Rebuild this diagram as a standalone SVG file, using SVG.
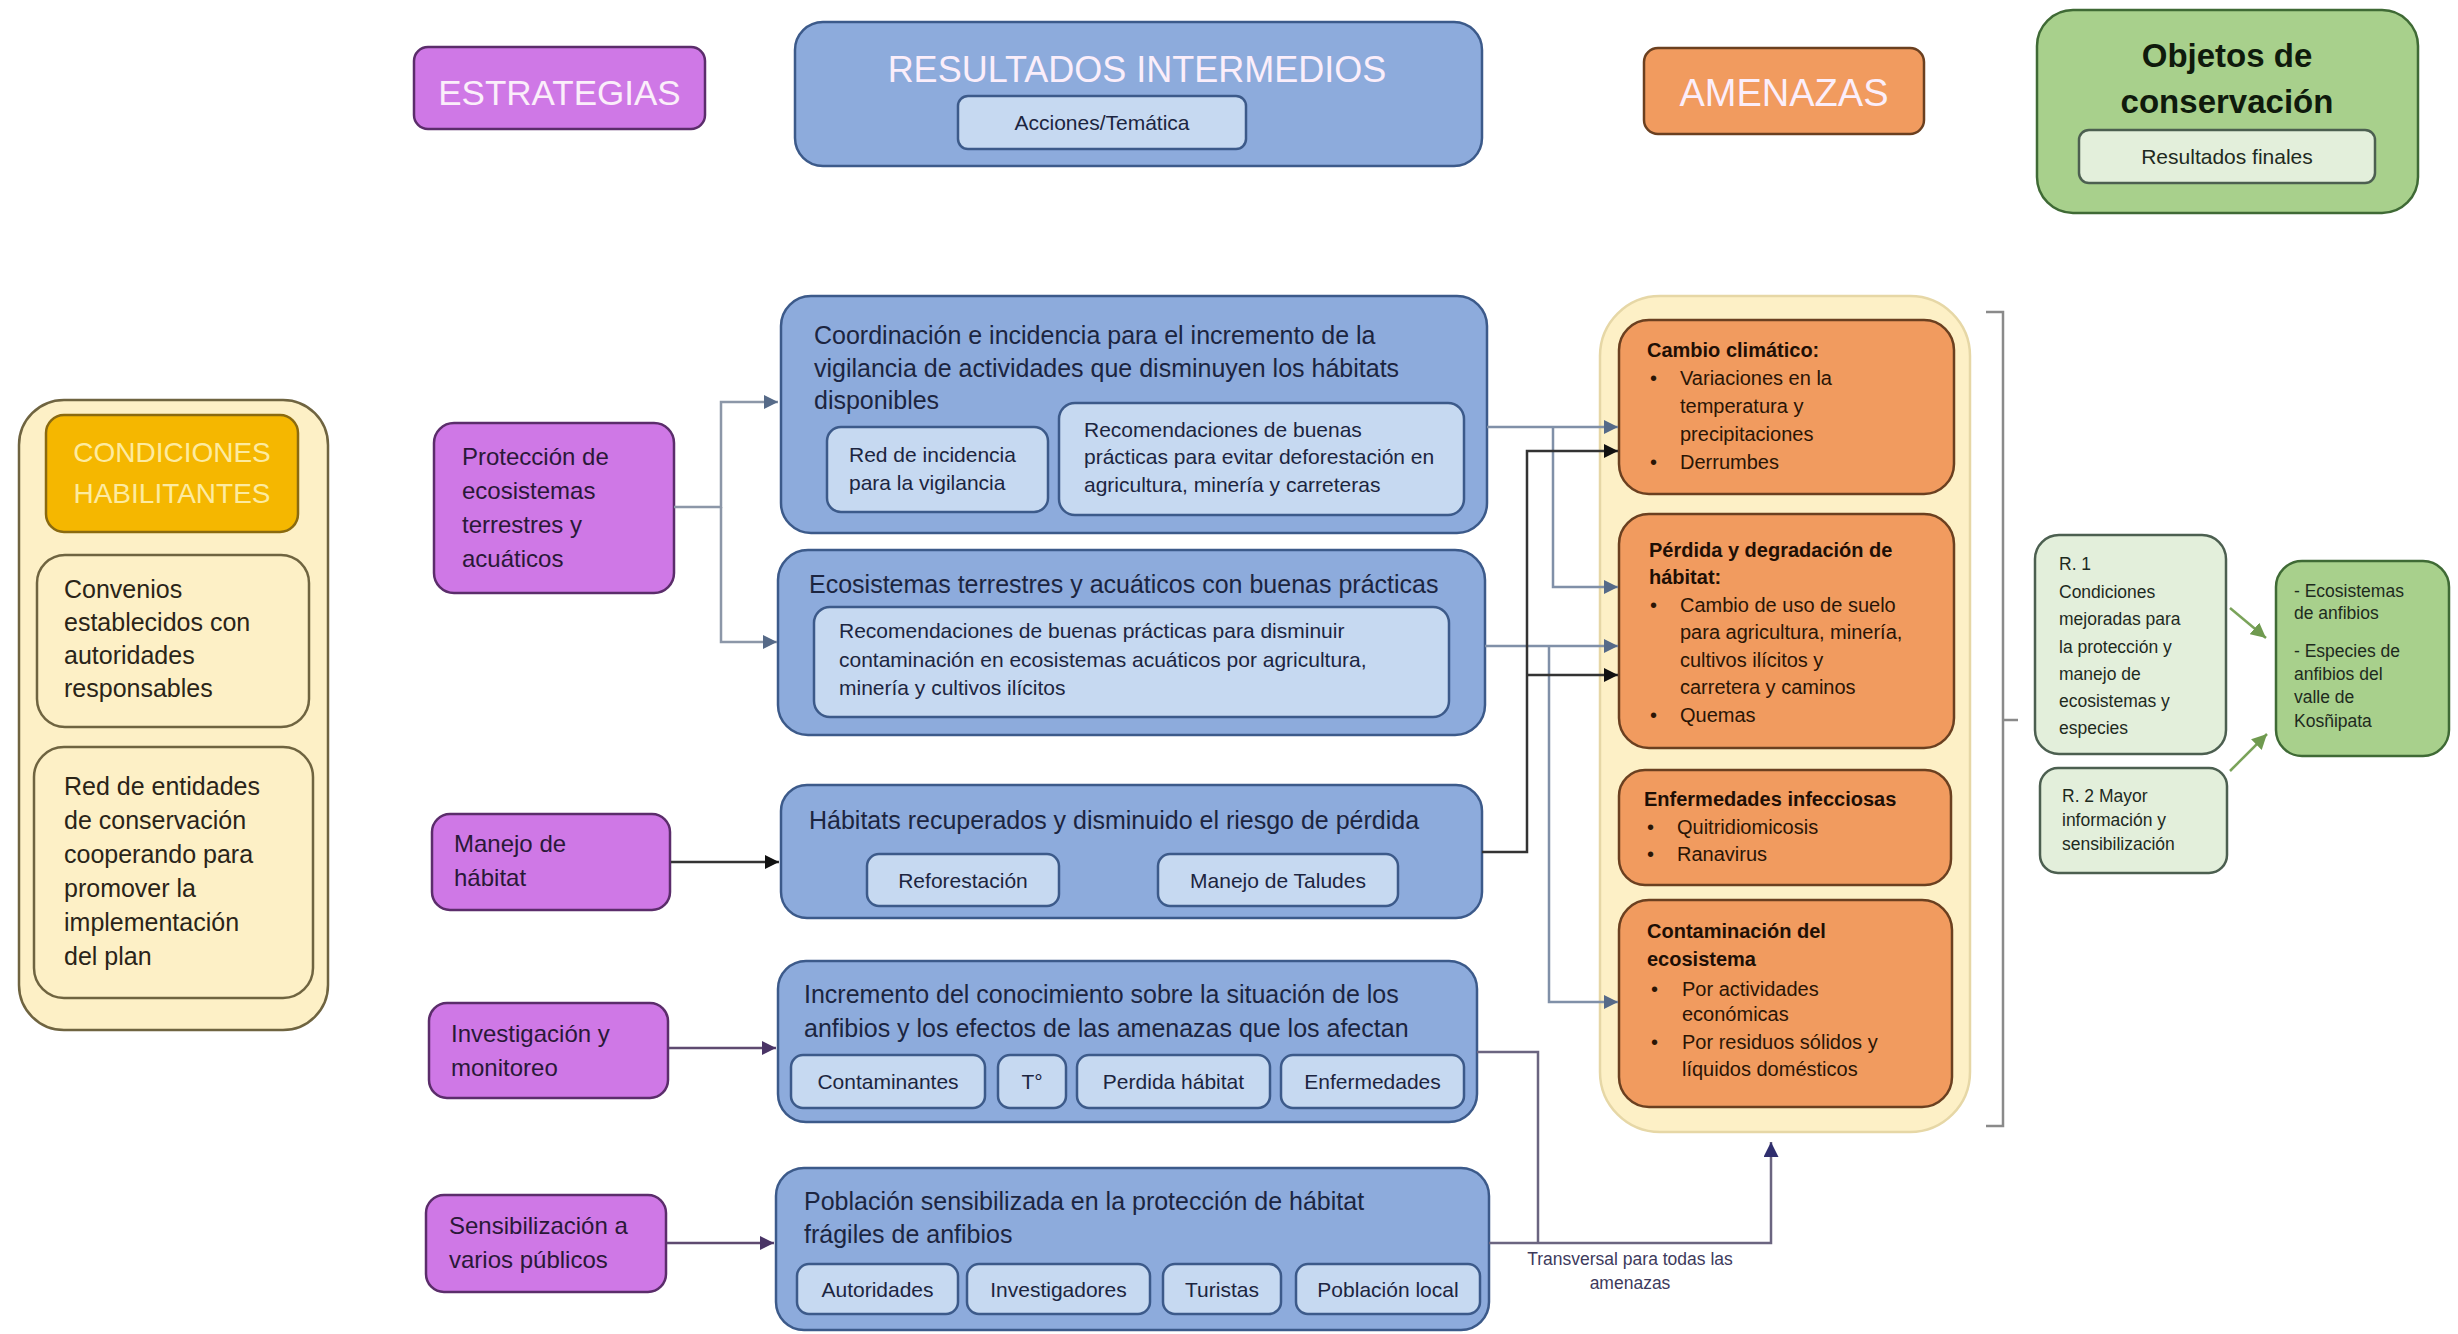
<svg xmlns="http://www.w3.org/2000/svg" width="2458" height="1334" viewBox="0 0 2458 1334">
<defs>
<style>
text{font-family:"Liberation Sans",Arial,sans-serif;}
.hdr{fill:#fbeefa;text-anchor:middle;}
.strat{fill:#cf78e6;stroke:#5b2d6b;stroke-width:2.5;}
.stxt{fill:#2a1838;font-size:24px;}
.blue{fill:#8dabdc;stroke:#3c5a8a;stroke-width:2.5;}
.sub{fill:#c6d9f1;stroke:#3c5a8a;stroke-width:2.5;}
.btitle{fill:#1c2540;font-size:25px;}
.btxt{fill:#1c2540;font-size:21px;}
.mid{text-anchor:middle;}
.cream{fill:#fdf0c6;stroke:#6f6440;stroke-width:2.5;}
.ctxt{fill:#2a2418;font-size:25px;}
.orange{fill:#f19b5f;stroke:#6b4020;stroke-width:2.5;}
.otitle{fill:#1e0f05;font-size:20px;font-weight:bold;}
.otxt{fill:#2a1505;font-size:20px;}
.lgreen{fill:#e3efdb;stroke:#4c5f50;stroke-width:2.5;}
.gtxt{fill:#1e2a1e;font-size:17.5px;}
.con{fill:none;stroke-width:2.5;}
</style>
<marker id="aGrey" viewBox="0 0 10 10" refX="10" refY="5" markerWidth="14" markerHeight="14" markerUnits="userSpaceOnUse" orient="auto"><path d="M0,0 L10,5 L0,10 z" fill="#566a88"/></marker>
<marker id="aBlack" viewBox="0 0 10 10" refX="10" refY="5" markerWidth="14" markerHeight="14" markerUnits="userSpaceOnUse" orient="auto"><path d="M0,0 L10,5 L0,10 z" fill="#111111"/></marker>
<marker id="aPurple" viewBox="0 0 10 10" refX="10" refY="5" markerWidth="14" markerHeight="14" markerUnits="userSpaceOnUse" orient="auto"><path d="M0,0 L10,5 L0,10 z" fill="#4a3466"/></marker>
<marker id="aNavy" viewBox="0 0 10 10" refX="10" refY="5" markerWidth="15" markerHeight="15" markerUnits="userSpaceOnUse" orient="auto"><path d="M0,0 L10,5 L0,10 z" fill="#2f2e6e"/></marker>
<marker id="aGreen" viewBox="0 0 10 10" refX="10" refY="5" markerWidth="15" markerHeight="15" markerUnits="userSpaceOnUse" orient="auto"><path d="M0,0 L10,5 L0,10 z" fill="#6f9a4f"/></marker>
</defs>
<rect x="0" y="0" width="2458" height="1334" fill="#ffffff"/>

<!-- Headers -->
<g id="hdr-estrategias">
<rect x="414" y="47" width="291" height="82" rx="14" class="strat"/>
<text x="559.5" y="105" class="hdr" font-size="35">ESTRATEGIAS</text>
</g>
<g id="hdr-resultados">
<rect x="795" y="22" width="687" height="144" rx="28" class="blue"/>
<text x="1137" y="82" class="hdr" font-size="36">RESULTADOS INTERMEDIOS</text>
<rect x="958" y="96" width="288" height="53" rx="10" class="sub"/>
<text x="1102" y="130" class="btxt mid">Acciones/Temática</text>
</g>
<g id="hdr-amenazas">
<rect x="1644" y="48" width="280" height="86" rx="14" class="orange"/>
<text x="1784" y="106" class="hdr" font-size="38">AMENAZAS</text>
</g>
<g id="hdr-objetos">
<rect x="2037" y="10" width="381" height="203" rx="36" fill="#a8d08c" stroke="#3f6a35" stroke-width="2.5"/>
<text x="2227" y="67" font-size="33" font-weight="bold" fill="#0f1a0c" text-anchor="middle">Objetos de</text>
<text x="2227" y="113" font-size="33" font-weight="bold" fill="#0f1a0c" text-anchor="middle">conservación</text>
<rect x="2079" y="130" width="296" height="53" rx="10" class="lgreen"/>
<text x="2227" y="164" class="mid" style="font-size:21px;fill:#1e2a1e">Resultados finales</text>
</g>

<!-- Condiciones habilitantes -->
<g id="condiciones">
<rect x="19" y="400" width="309" height="630" rx="45" class="cream"/>
<rect x="46" y="415" width="252" height="117" rx="18" fill="#f5b700" stroke="#8a6a10" stroke-width="2.5"/>
<text x="172" y="462" font-size="28" fill="#fdeba0" text-anchor="middle">CONDICIONES</text>
<text x="172" y="503" font-size="28" fill="#fdeba0" text-anchor="middle">HABILITANTES</text>
</g>
<g id="convenios">
<rect x="37" y="555" width="272" height="172" rx="28" class="cream"/>
<text class="ctxt"><tspan x="64" y="598">Convenios</tspan><tspan x="64" y="631">establecidos con</tspan><tspan x="64" y="664">autoridades</tspan><tspan x="64" y="697">responsables</tspan></text>
</g>
<g id="red-entidades">
<rect x="34" y="747" width="279" height="251" rx="30" class="cream"/>
<text class="ctxt"><tspan x="64" y="795">Red de entidades</tspan><tspan x="64" y="829">de conservación</tspan><tspan x="64" y="863">cooperando para</tspan><tspan x="64" y="897">promover la</tspan><tspan x="64" y="931">implementación</tspan><tspan x="64" y="965">del plan</tspan></text>
</g>

<!-- Strategies -->
<g id="s-proteccion">
<rect x="434" y="423" width="240" height="170" rx="20" class="strat"/>
<text class="stxt"><tspan x="462" y="465">Protección de</tspan><tspan x="462" y="499">ecosistemas</tspan><tspan x="462" y="533">terrestres y</tspan><tspan x="462" y="567">acuáticos</tspan></text>
</g>
<g id="s-manejo">
<rect x="432" y="814" width="238" height="96" rx="18" class="strat"/>
<text class="stxt"><tspan x="454" y="852">Manejo de</tspan><tspan x="454" y="886">hábitat</tspan></text>
</g>
<g id="s-investigacion">
<rect x="429" y="1003" width="239" height="95" rx="18" class="strat"/>
<text class="stxt"><tspan x="451" y="1042">Investigación y</tspan><tspan x="451" y="1076">monitoreo</tspan></text>
</g>
<g id="s-sensibilizacion">
<rect x="426" y="1195" width="240" height="97" rx="18" class="strat"/>
<text class="stxt"><tspan x="449" y="1234">Sensibilización a</tspan><tspan x="449" y="1268">varios públicos</tspan></text>
</g>

<!-- Intermediate results -->
<g id="r-coordinacion">
<rect x="781" y="296" width="706" height="237" rx="30" class="blue"/>
<text class="btitle"><tspan x="814" y="344">Coordinación e incidencia para el incremento de la</tspan><tspan x="814" y="377">vigilancia de actividades que disminuyen los hábitats</tspan><tspan x="814" y="409">disponibles</tspan></text>
<rect x="827" y="427" width="221" height="85" rx="14" class="sub"/>
<text class="btxt"><tspan x="849" y="462">Red de incidencia</tspan><tspan x="849" y="490">para la vigilancia</tspan></text>
<rect x="1059" y="403" width="405" height="112" rx="16" class="sub"/>
<text class="btxt"><tspan x="1084" y="437">Recomendaciones de buenas</tspan><tspan x="1084" y="464">prácticas para evitar deforestación en</tspan><tspan x="1084" y="492">agricultura, minería y carreteras</tspan></text>
</g>
<g id="r-ecosistemas">
<rect x="778" y="550" width="707" height="185" rx="30" class="blue"/>
<text x="809" y="593" class="btitle">Ecosistemas terrestres y acuáticos con buenas prácticas</text>
<rect x="814" y="607" width="635" height="110" rx="16" class="sub"/>
<text class="btxt"><tspan x="839" y="638">Recomendaciones de buenas prácticas para disminuir</tspan><tspan x="839" y="667">contaminación en ecosistemas acuáticos por agricultura,</tspan><tspan x="839" y="695">minería y cultivos ilícitos</tspan></text>
</g>
<g id="r-habitats">
<rect x="781" y="785" width="701" height="133" rx="26" class="blue"/>
<text x="809" y="829" class="btitle">Hábitats recuperados y disminuido el riesgo de pérdida</text>
<rect x="867" y="854" width="192" height="52" rx="12" class="sub"/>
<text x="963" y="888" class="btxt mid">Reforestación</text>
<rect x="1158" y="854" width="240" height="52" rx="12" class="sub"/>
<text x="1278" y="888" class="btxt mid">Manejo de Taludes</text>
</g>
<g id="r-conocimiento">
<rect x="778" y="961" width="699" height="161" rx="28" class="blue"/>
<text class="btitle"><tspan x="804" y="1003">Incremento del conocimiento sobre la situación de los</tspan><tspan x="804" y="1037">anfibios y los efectos de las amenazas que los afectan</tspan></text>
<rect x="791" y="1055" width="194" height="53" rx="12" class="sub"/>
<text x="888" y="1089" class="btxt mid">Contaminantes</text>
<rect x="998" y="1055" width="68" height="53" rx="12" class="sub"/>
<text x="1032" y="1089" class="btxt mid">T°</text>
<rect x="1077" y="1055" width="193" height="53" rx="12" class="sub"/>
<text x="1173.5" y="1089" class="btxt mid">Perdida hábitat</text>
<rect x="1281" y="1055" width="183" height="53" rx="12" class="sub"/>
<text x="1372.5" y="1089" class="btxt mid">Enfermedades</text>
</g>
<g id="r-poblacion">
<rect x="776" y="1168" width="713" height="162" rx="28" class="blue"/>
<text class="btitle"><tspan x="804" y="1210">Población sensibilizada en la protección de hábitat</tspan><tspan x="804" y="1243">frágiles de anfibios</tspan></text>
<rect x="797" y="1264" width="161" height="50" rx="12" class="sub"/>
<text x="877.5" y="1297" class="btxt mid">Autoridades</text>
<rect x="967" y="1264" width="183" height="50" rx="12" class="sub"/>
<text x="1058.5" y="1297" class="btxt mid">Investigadores</text>
<rect x="1163" y="1264" width="118" height="50" rx="12" class="sub"/>
<text x="1222" y="1297" class="btxt mid">Turistas</text>
<rect x="1296" y="1264" width="184" height="50" rx="12" class="sub"/>
<text x="1388" y="1297" class="btxt mid">Población local</text>
</g>

<!-- Threats -->
<g id="amenazas-panel">
<rect x="1600" y="296" width="370" height="836" rx="60" fill="#fdf0c6" stroke="#e6d7a6" stroke-width="2.5"/>
</g>
<g id="a-cambio">
<rect x="1619" y="320" width="335" height="174" rx="30" class="orange"/>
<text x="1647" y="357" class="otitle">Cambio climático:</text>
<text class="otxt"><tspan x="1650" y="385">•</tspan><tspan x="1680" y="385">Variaciones en la</tspan><tspan x="1680" y="413">temperatura y</tspan><tspan x="1680" y="441">precipitaciones</tspan><tspan x="1650" y="469">•</tspan><tspan x="1680" y="469">Derrumbes</tspan></text>
</g>
<g id="a-perdida">
<rect x="1619" y="514" width="335" height="234" rx="30" class="orange"/>
<text class="otitle"><tspan x="1649" y="557">Pérdida y degradación de</tspan><tspan x="1649" y="584">hábitat:</tspan></text>
<text class="otxt"><tspan x="1650" y="612">•</tspan><tspan x="1680" y="612">Cambio de uso de suelo</tspan><tspan x="1680" y="639">para agricultura, minería,</tspan><tspan x="1680" y="667">cultivos ilícitos y</tspan><tspan x="1680" y="694">carretera y caminos</tspan><tspan x="1650" y="722">•</tspan><tspan x="1680" y="722">Quemas</tspan></text>
</g>
<g id="a-enfermedades">
<rect x="1619" y="770" width="332" height="115" rx="26" class="orange"/>
<text x="1644" y="806" class="otitle">Enfermedades infecciosas</text>
<text class="otxt"><tspan x="1647" y="834">•</tspan><tspan x="1677" y="834">Quitridiomicosis</tspan><tspan x="1647" y="861">•</tspan><tspan x="1677" y="861">Ranavirus</tspan></text>
</g>
<g id="a-contaminacion">
<rect x="1619" y="900" width="333" height="207" rx="30" class="orange"/>
<text class="otitle"><tspan x="1647" y="938">Contaminación del</tspan><tspan x="1647" y="966">ecosistema</tspan></text>
<text class="otxt"><tspan x="1651" y="996">•</tspan><tspan x="1682" y="996">Por actividades</tspan><tspan x="1682" y="1021">económicas</tspan><tspan x="1651" y="1049">•</tspan><tspan x="1682" y="1049">Por residuos sólidos y</tspan><tspan x="1682" y="1076">líquidos domésticos</tspan></text>
</g>

<!-- Final results -->
<g id="r1">
<rect x="2035" y="535" width="191" height="219" rx="24" class="lgreen"/>
<text class="gtxt"><tspan x="2059" y="570">R. 1</tspan><tspan x="2059" y="598">Condiciones</tspan><tspan x="2059" y="625">mejoradas para</tspan><tspan x="2059" y="653">la protección y</tspan><tspan x="2059" y="680">manejo de</tspan><tspan x="2059" y="707">ecosistemas y</tspan><tspan x="2059" y="734">especies</tspan></text>
</g>
<g id="r2">
<rect x="2040" y="768" width="187" height="105" rx="18" class="lgreen"/>
<text class="gtxt"><tspan x="2062" y="802">R. 2 Mayor</tspan><tspan x="2062" y="826">información y</tspan><tspan x="2062" y="850">sensibilización</tspan></text>
</g>
<g id="objetos">
<rect x="2276" y="561" width="173" height="195" rx="26" fill="#a8d08c" stroke="#3f6a35" stroke-width="2.5"/>
<text class="gtxt"><tspan x="2294" y="597">- Ecosistemas</tspan><tspan x="2294" y="619">de anfibios</tspan><tspan x="2294" y="657">- Especies de</tspan><tspan x="2294" y="680">anfibios del</tspan><tspan x="2294" y="703">valle de</tspan><tspan x="2294" y="727">Kosñipata</tspan></text>
</g>

<!-- Connectors -->
<g id="connectors">
<path class="con" stroke="#8c97a8" d="M674,507 H721 V402 H778" marker-end="url(#aGrey)"/>
<path class="con" stroke="#8c97a8" d="M721,507 V642 H777" marker-end="url(#aGrey)"/>
<path class="con" stroke="#333333" d="M671,862 H779" marker-end="url(#aBlack)"/>
<path class="con" stroke="#5e4a70" d="M669,1048 H776" marker-end="url(#aPurple)"/>
<path class="con" stroke="#5e4a70" d="M667,1243 H774" marker-end="url(#aPurple)"/>

<path class="con" stroke="#8090a8" d="M1487,427 H1618" marker-end="url(#aGrey)"/>
<path class="con" stroke="#8090a8" d="M1553,427 V587 H1618" marker-end="url(#aGrey)"/>
<path class="con" stroke="#8090a8" d="M1485,646 H1618" marker-end="url(#aGrey)"/>
<path class="con" stroke="#8090a8" d="M1549,646 V1002 H1618" marker-end="url(#aGrey)"/>
<path class="con" stroke="#333333" d="M1482,852 H1527 V451 H1618" marker-end="url(#aBlack)"/>
<path class="con" stroke="#333333" d="M1527,675 H1618" marker-end="url(#aBlack)"/>

<path class="con" stroke="#6b6580" d="M1477,1052 H1538 V1243"/>
<path class="con" stroke="#6b6580" d="M1489,1243 H1771 V1142" marker-end="url(#aNavy)"/>
<text x="1630" y="1265" font-size="17.5" fill="#3d3a5c" text-anchor="middle">Transversal para todas las</text>
<text x="1630" y="1289" font-size="17.5" fill="#3d3a5c" text-anchor="middle">amenazas</text>

<path class="con" stroke="#8a8a8a" stroke-width="2" d="M1986,312 H2003 V1126 H1986 M2003,720 H2018"/>
<path class="con" stroke="#7aa35a" stroke-width="3" d="M2230,608 L2266,638" marker-end="url(#aGreen)"/>
<path class="con" stroke="#7aa35a" stroke-width="3" d="M2230,771 L2267,734" marker-end="url(#aGreen)"/>
</g>
</svg>
